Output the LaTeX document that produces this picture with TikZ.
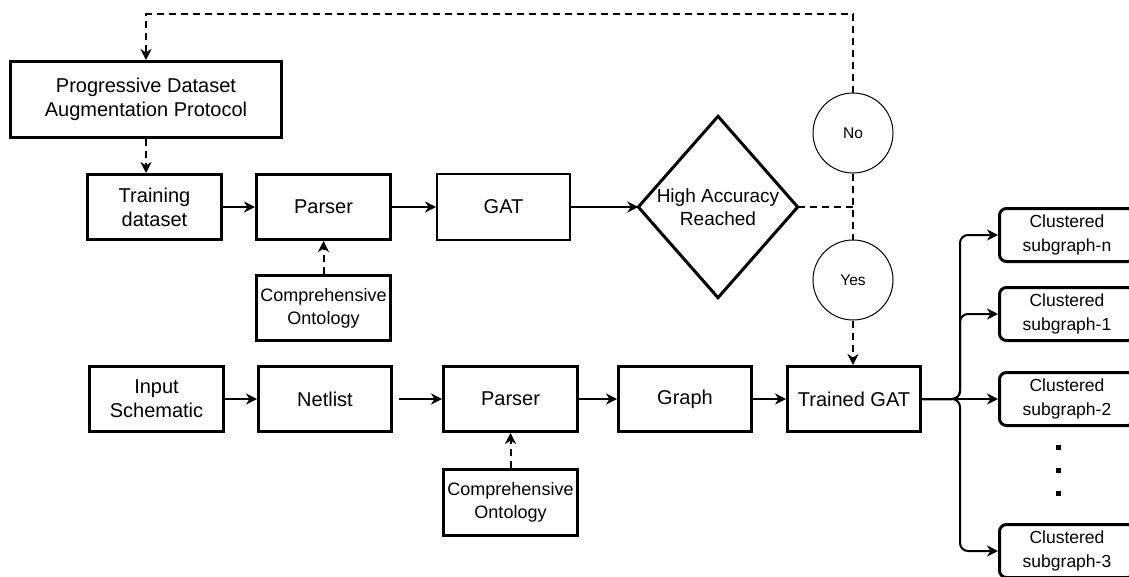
\documentclass[tikz,border=0pt]{standalone}
\usepackage{fontspec}
\setmainfont{Liberation Sans}
\usetikzlibrary{arrows.meta,calc}

\begin{document}
\begin{tikzpicture}[x=1pt,y=-1pt,
  box/.style={draw,line width=3pt,inner sep=0pt,minimum width=134pt,minimum height=65pt,
    align=center,font=\fontsize{20}{24}\selectfont},
  thinbox/.style={box,line width=2pt},
  ontobox/.style={box,font=\fontsize{18}{23}\selectfont},
  clbox/.style={box,rounded corners=7pt,minimum width=135pt,minimum height=53pt,
    font=\fontsize{17.5}{24}\selectfont},
  answer/.style={draw,circle,line width=1pt,minimum size=80pt,inner sep=0pt,
    font=\fontsize{15.5}{18}\selectfont},
  flow/.style={line width=2pt,-{Stealth[length=11pt,width=11pt,inset=3.5pt]}},
  feed/.style={flow,dash pattern=on 7pt off 5pt},
  feedline/.style={line width=2pt,dash pattern=on 7pt off 5pt},
]
\useasboundingbox (0,0) rectangle (1129,576);

% training loop
\node[box,minimum width=271pt,minimum height=76pt] (pdap) at (146,99.5)
  {Progressive Dataset\\Augmentation Protocol};
\node[box] (train) at (154.5,207) {Training\\dataset};
\node[box] (parseA) at (323.5,207) {Parser};
\node[ontobox] (ontoA) at (323.5,308) {Comprehensive\\Ontology};
\node[thinbox,minimum width=133pt,minimum height=66pt] (gat) at (503.5,207) {GAT};
\node[inner sep=0pt,minimum width=159pt,minimum height=181pt,align=center,
  font=\fontsize{19}{23}\selectfont] (dec) at (718,207) {High Accuracy\\Reached};
\draw[line width=3pt,line join=miter] (dec.west) -- (dec.north) -- (dec.east) -- (dec.south) -- cycle;
\node[answer] (no) at (853,133) {No};
\node[answer] (yes) at (853,280) {Yes};

% inference pipeline
\node[box] (inp) at (156.5,399) {Input\\Schematic};
\node[box,minimum width=133pt] (net) at (325,399) {Netlist};
\node[box] (parseB) at (510.5,399) {Parser};
\node[ontobox,minimum height=66pt] (ontoB) at (510.5,502.5) {Comprehensive\\Ontology};
\node[box,minimum width=133pt] (graph) at (685,399) {Graph};
\node[box,minimum width=133pt] (tgat) at (854,399) {Trained GAT};

% clustered outputs
\node[clbox] (cn) at (1067,235) {Clustered\\subgraph-n};
\node[clbox] (c1) at (1067,314) {Clustered\\subgraph-1};
\node[clbox] (c2) at (1067,399) {Clustered\\subgraph-2};
\node[clbox] (c3) at (1067,551) {Clustered\\subgraph-3};
\foreach \y in {447,470,493}
  \fill (1055.5,\y-2.5) rectangle ++(5,5);

% connectors of the training loop
\draw[feed] (pdap.south) -- (pdap.south |- train.north);
\draw[flow] (train) -- (parseA);
\draw[feed] (ontoA) -- (parseA);
\draw[flow] (parseA) -- (gat);
\draw[flow] (gat) -- (dec.west);
\coordinate (split) at (853,207);
\coordinate (topturn) at (853,14);
\draw[feedline] (dec.east) -- (split);
\draw[feedline] (no.south) -- (yes.north);
\draw[feed] (no.north) -- (topturn) -| (pdap.north);
\draw[feed] (yes.south) -- (yes.south |- tgat.north);

% connectors of the inference pipeline
\draw[flow] (inp) -- (net);
\draw[flow] ([xshift=6pt]net.east) -- (parseB.west);
\draw[feed] (ontoB) -- (parseB);
\draw[flow] (parseB) -- (graph);
\draw[flow] (graph) -- (tgat);

% fan-out to the clusters
\draw[flow,rounded corners=8pt] (tgat.east) -- ++(38,0) |- (cn.west);
\draw[flow,rounded corners=8pt] (tgat.east) -- ++(38,0) |- (c1.west);
\draw[flow] (tgat.east) -- (c2.west);
\draw[flow,rounded corners=8pt] (tgat.east) -- ++(38,0) |- (c3.west);
\end{tikzpicture}
\end{document}
